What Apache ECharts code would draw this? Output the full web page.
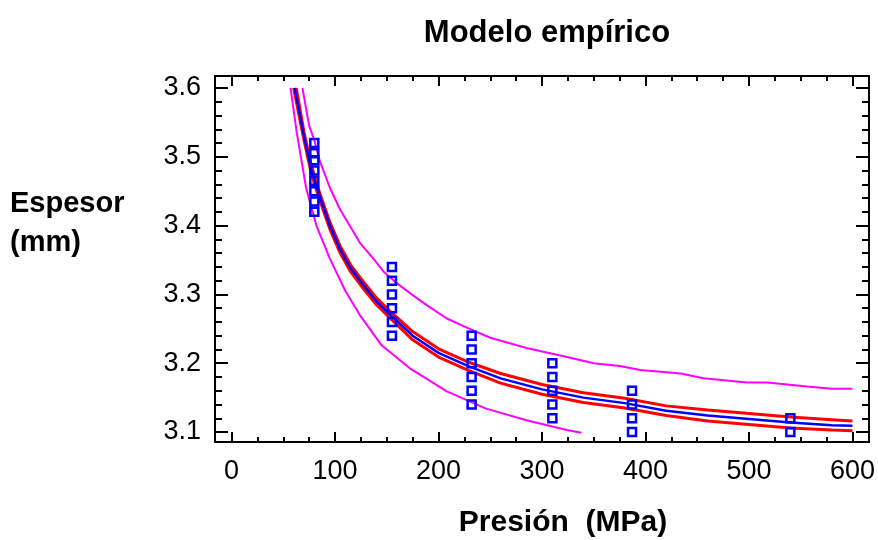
<!DOCTYPE html>
<html>
<head>
<meta charset="utf-8">
<script src="https://cdn.jsdelivr.net/npm/echarts@6/dist/echarts.min.js"></script>
<style>html,body{margin:0;padding:0;background:#fff}#c{width:878px;height:540px}</style>
</head>
<body>
<div id="c"></div>
<script>
// ---- data ----
var xTicks = [0, 100, 200, 300, 400, 500, 600];
var yTicks = [3.1, 3.2, 3.3, 3.4, 3.5, 3.6];

var obsX = [80, 80, 80, 80, 80, 80, 80, 80,
            155, 155, 155, 155, 155, 155,
            232, 232, 232, 232, 232, 232,
            310, 310, 310, 310, 310,
            387, 387, 387, 387,
            540, 540];
var obsY = [3.52, 3.505, 3.495, 3.48, 3.465, 3.45, 3.435, 3.42,
            3.34, 3.32, 3.30, 3.28, 3.26, 3.24,
            3.24, 3.22, 3.20, 3.18, 3.16, 3.14,
            3.20, 3.18, 3.16, 3.14, 3.12,
            3.16, 3.14, 3.12, 3.10,
            3.12, 3.10];

var fitX = [61, 70, 77, 85, 95, 105, 115, 125, 140, 155, 175, 200, 230, 260, 300, 340, 380, 420, 460, 500, 540, 580, 600];
var fitY = [3.600, 3.530, 3.482, 3.443, 3.400, 3.365, 3.338, 3.318, 3.290, 3.268, 3.240, 3.215, 3.195, 3.178, 3.162, 3.150, 3.142, 3.131, 3.124, 3.119, 3.114, 3.110, 3.109];

var confUpX = [62.5, 70, 77, 85, 95, 105, 115, 125, 140, 155, 175, 200, 230, 260, 300, 340, 380, 420, 460, 500, 540, 580, 600];
var confUpY = [3.600, 3.536, 3.488, 3.448, 3.405, 3.370, 3.343, 3.323, 3.295, 3.273, 3.246, 3.221, 3.201, 3.185, 3.169, 3.157, 3.149, 3.138, 3.132, 3.127, 3.122, 3.118, 3.116];

var confLoX = [60, 70, 77, 85, 95, 105, 115, 125, 140, 155, 175, 200, 230, 260, 300, 340, 380, 420, 460, 500, 540, 580, 600];
var confLoY = [3.600, 3.524, 3.476, 3.438, 3.395, 3.360, 3.333, 3.313, 3.285, 3.263, 3.234, 3.209, 3.189, 3.171, 3.155, 3.143, 3.135, 3.124, 3.116, 3.111, 3.106, 3.103, 3.102];

var predUpX = [68.5, 75, 80, 85, 95, 105, 115, 124, 137, 147, 160, 174, 190, 208, 230, 250, 285, 324, 350, 375, 395, 434, 456, 498, 518, 556, 580, 600];
var predUpY = [3.600, 3.545, 3.524, 3.495, 3.455, 3.423, 3.398, 3.375, 3.352, 3.333, 3.316, 3.300, 3.283, 3.265, 3.250, 3.237, 3.222, 3.209, 3.200, 3.196, 3.190, 3.185, 3.178, 3.172, 3.172, 3.166, 3.163, 3.163];

var predLoX = [57, 63, 72, 82, 95, 110, 124, 145, 172, 208, 246, 285, 324, 338];
var predLoY = [3.600, 3.535, 3.455, 3.400, 3.352, 3.305, 3.270, 3.226, 3.193, 3.159, 3.134, 3.117, 3.103, 3.099];

var titleText = 'Modelo empírico';
var xName = 'Presión  (MPa)';
var yName = 'Espesor\n(mm)';

// ---- helpers ----
function zip(xs, ys) { return xs.map(function (x, i) { return [x, ys[i]]; }); }
function range(a, b, s, d) { var r = []; for (var v = a; v <= b + 1e-9; v += s) r.push(+v.toFixed(d)); return r; }

var X_MIN = -16, X_MAX = 616, Y_MIN = 3.0855, Y_MAX = 3.6174;
var xMinor = range(0, 600, 25, 0);
var yMinor = range(3.1, 3.6, 0.02, 2);
var FONT = '"Liberation Sans", Arial, Helvetica, sans-serif';

function xAx(pos, values, len, showLabel, showLine) {
  return {
    type: 'value', position: pos, min: X_MIN, max: X_MAX,
    splitLine: { show: false },
    axisLine: { show: showLine, onZero: false, lineStyle: { color: '#000', width: 2 } },
    axisTick: { show: true, inside: true, length: len, customValues: values, lineStyle: { color: '#000', width: 2 } },
    axisLabel: { show: showLabel, customValues: values, margin: 16, color: '#000', fontSize: 27, fontFamily: FONT,
      formatter: function (v) { return String(v); } }
  };
}
function yAx(pos, values, len, showLabel, showLine) {
  return {
    type: 'value', position: pos, min: Y_MIN, max: Y_MAX,
    splitLine: { show: false },
    axisLine: { show: showLine, onZero: false, lineStyle: { color: '#000', width: 2 } },
    axisTick: { show: true, inside: true, length: len, customValues: values, lineStyle: { color: '#000', width: 2 } },
    axisLabel: { show: showLabel, customValues: values, margin: 14, color: '#000', fontSize: 27, fontFamily: FONT,
      formatter: function (v) { return v.toFixed(1); } }
  };
}

var chart = echarts.init(document.getElementById('c'), null, { renderer: 'canvas' });
var lineBase = { type: 'line', xAxisIndex: 0, yAxisIndex: 0, showSymbol: false, symbol: 'none', smooth: false, silent: true, animation: false, z: 2 };

chart.setOption({
  backgroundColor: '#fff',
  animation: false,
  grid: { left: 215, top: 76, width: 654, height: 366, containLabel: false },
  xAxis: [
    xAx('bottom', xTicks, 10, true, true),
    xAx('bottom', xMinor, 5, false, false),
    xAx('top', xTicks, 10, false, true),
    xAx('top', xMinor, 5, false, false)
  ],
  yAxis: [
    yAx('left', yTicks, 13, true, true),
    yAx('left', yMinor, 7, false, false),
    yAx('right', yTicks, 13, false, true),
    yAx('right', yMinor, 7, false, false)
  ],
  graphic: [
    { type: 'text', x: 547, y: 33, style: { text: titleText, fontFamily: FONT, fontWeight: 'bold', fontSize: 31, fill: '#000', align: 'center', verticalAlign: 'middle' } },
    { type: 'text', x: 10, y: 223, style: { text: yName, fontFamily: FONT, fontWeight: 'bold', fontSize: 29, lineHeight: 39, fill: '#000', align: 'left', verticalAlign: 'middle' } },
    { type: 'text', x: 563, y: 523, style: { text: xName, fontFamily: FONT, fontWeight: 'bold', fontSize: 30, fill: '#000', align: 'center', verticalAlign: 'middle' } }
  ],
  series: [
    Object.assign({}, lineBase, { data: zip(predUpX, predUpY), lineStyle: { color: '#ff00ff', width: 2 } }),
    Object.assign({}, lineBase, { data: zip(predLoX, predLoY), lineStyle: { color: '#ff00ff', width: 2 } }),
    Object.assign({}, lineBase, { data: zip(confUpX, confUpY), lineStyle: { color: '#ff0000', width: 3 } }),
    Object.assign({}, lineBase, { data: zip(confLoX, confLoY), lineStyle: { color: '#ff0000', width: 3 } }),
    Object.assign({}, lineBase, { data: zip(fitX, fitY), lineStyle: { color: '#0000ff', width: 2.5 }, z: 3 }),
    { type: 'scatter', xAxisIndex: 0, yAxisIndex: 0, data: zip(obsX, obsY), symbol: 'rect', symbolSize: 8,
      itemStyle: { color: 'rgba(0,0,0,0)', borderColor: '#0000ff', borderWidth: 2.5, opacity: 1 }, z: 4, animation: false }
  ]
});
</script>
</body>
</html>
